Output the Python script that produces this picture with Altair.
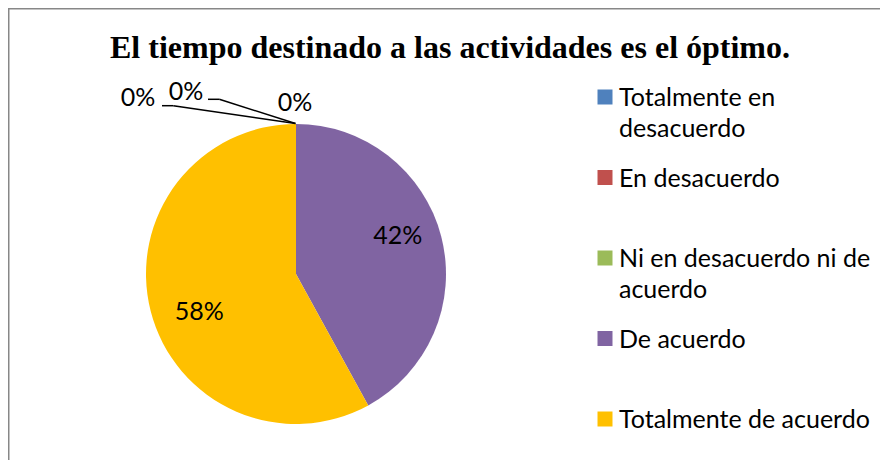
import altair as alt
import pandas as pd

# ---- data ----
categories = [
    "Totalmente en desacuerdo",
    "En desacuerdo",
    "Ni en desacuerdo ni de acuerdo",
    "De acuerdo",
    "Totalmente de acuerdo",
]
legend_labels = [
    "Totalmente en\ndesacuerdo",
    "En desacuerdo",
    "Ni en desacuerdo ni de\nacuerdo",
    "De acuerdo",
    "Totalmente de acuerdo",
]
percentages = [0, 0, 0, 42, 58]
colors = ["#4F81BD", "#C0504D", "#9BBB59", "#8064A2", "#FFC000"]
title_text = "El tiempo destinado a las actividades es el óptimo."

df = pd.DataFrame({
    "category": categories,
    "legend": legend_labels,
    "value": percentages,
    "order": list(range(len(categories))),
})

# ---- layout / style ----
W, H = 872, 452
CX, CY, R = 288, 266, 150
LABEL_FONT = "Lato"
LABEL_SIZE = 25
BORDER = "#878787"

color = alt.Color("category:N", scale=alt.Scale(domain=categories, range=colors), legend=None)
theta_scale = alt.Scale(domain=[0, 100])

base = alt.Chart(df)

pie = base.mark_arc(radius=R).encode(
    theta=alt.Theta("value:Q", stack=True, scale=theta_scale),
    color=color,
    order=alt.Order("order:Q"),
    x=alt.value(CX),
    y=alt.value(CY),
)

lab = base.transform_window(
    cum="sum(value)", sort=[alt.SortField("order")], frame=[None, 0]
).transform_calculate(
    mid="datum.cum - datum.value / 2",
    pct="datum.value + '%'",
)

# label placement (radius, dx, dy) per slice, mimicking the original's label layout
label_place = {0: (R, -158, -26), 1: (R, -110, -32), 2: (R, -1, -21), 3: (106, -1, -12), 4: (106, 6, 12)}


def label_layer(i):
    rad, dx, dy = label_place[i]
    return lab.transform_filter(alt.datum.order == i).mark_text(
        radius=rad, dx=dx, dy=dy, font=LABEL_FONT, fontSize=LABEL_SIZE,
        color="black", baseline="middle", align="center",
    ).encode(
        theta=alt.Theta("mid:Q", stack=False, scale=theta_scale),
        text="pct:N",
        x=alt.value(CX),
        y=alt.value(CY),
    )


labels = [label_layer(i) for i in range(len(categories))]

one = alt.Data(values=[{}])
top = (CX, CY - R)


def seg(x1, y1, x2, y2, col="black", w=1.5):
    return alt.Chart(one).mark_rule(color=col, strokeWidth=w).encode(
        x=alt.value(x1), y=alt.value(y1), x2=alt.value(x2), y2=alt.value(y2)
    )


leaders = [
    seg(154, 97.7, 165.3, 97.7),
    seg(165.3, 97.7, top[0] - 0.5, top[1] - 0.5),
    seg(200, 91.3, 211.3, 91.3),
    seg(211.3, 91.3, top[0] - 0.5, top[1] - 0.5),
]

border = [
    seg(0.75, 0, 0.75, H, BORDER, 1.5),
    seg(0, 0.75, W, 0.75, BORDER, 1.5),
]

title = alt.Chart(one).mark_text(
    text=title_text, font="Liberation Serif", fontWeight="bold", fontSize=32,
    align="center", baseline="alphabetic", color="black",
).encode(x=alt.value(442), y=alt.value(50))

leg_y = alt.Y(
    "category:N",
    scale=alt.Scale(type="point", domain=categories, range=[89, 411], padding=0),
    axis=None,
)
squares = base.mark_square(size=225, opacity=1).encode(x=alt.value(597), y=leg_y, color=color)
texts = base.mark_text(
    align="left", baseline="alphabetic", dy=9, lineBreak="\n", lineHeight=30.7,
    font=LABEL_FONT, fontSize=LABEL_SIZE, color="black",
).encode(x=alt.value(611), y=leg_y, text="legend:N")

chart = alt.layer(
    *border, pie, *labels, *leaders, title, squares, texts
).properties(
    width=W, height=H, autosize=alt.AutoSizeParams(type="none"), padding=0
).configure_view(stroke=None)

chart.save("out.html", embed_options={"renderer": "svg", "actions": False})
